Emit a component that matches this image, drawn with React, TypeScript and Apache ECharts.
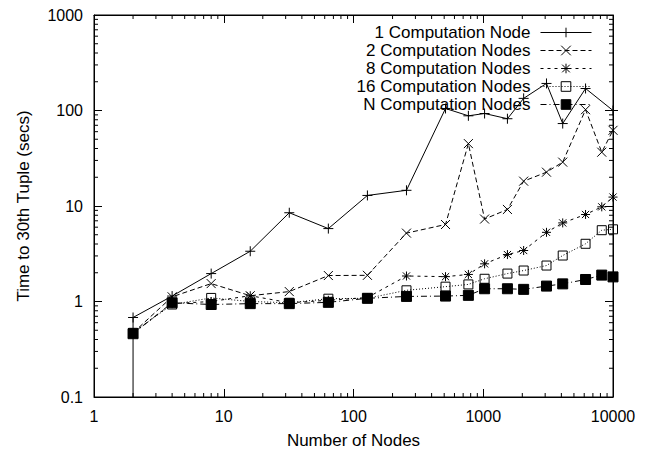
import React, { useEffect, useRef } from "react";
import * as echarts from "echarts";

// ---- data ----
const nodes = [2, 4, 8, 16, 32, 64, 128, 256, 512, 768, 1024, 1536, 2048, 3072, 4096, 6144, 8192, 10000];

const oneNode = [0.68, 1.14, 1.96, 3.36, 8.5, 5.8, 12.9, 14.6, 105, 88, 93, 82, 134, 192, 73, 170, null, 100];
const twoNodes = [0.47, 1.12, 1.54, 1.15, 1.27, 1.87, 1.88, 5.2, 6.4, 45, 7.3, 9.2, 18.2, 22.6, 28.8, 102, 36.6, 62];
const eightNodes = [0.47, 0.95, 1.0, 1.15, 0.97, 1.03, 1.1, 1.85, 1.82, 1.92, 2.48, 3.1, 3.42, 5.3, 6.65, 8.15, 9.8, 12.4];
const sixteenNodes = [0.47, 0.93, 1.09, 1.0, 0.97, 1.07, 1.08, 1.31, 1.43, 1.51, 1.73, 1.96, 2.11, 2.38, 3.03, 4.02, 5.58, 5.7];
const nNodes = [0.46, 0.97, 0.93, 0.95, 0.95, 0.98, 1.08, 1.13, 1.14, 1.16, 1.36, 1.36, 1.34, 1.45, 1.53, 1.7, 1.89, 1.81];

// the 1-node curve starts with a sample below the plotted range at 2 nodes
const oneNodeLowStart = [2, 0.01];

const seriesNames = [
  "1 Computation Node",
  "2 Computation Nodes",
  "8 Computation Nodes",
  "16 Computation Nodes",
  "N Computation Nodes",
];

const xMin = 1;
const xMax = 10000;
const yMin = 0.1;
const yMax = 1000;
const minorMultipliers = [2, 3, 4, 5, 6, 7, 8, 9];
const xDecades = [1, 10, 100, 1000];
const yDecades = [0.1, 1, 10, 100];

const FONT = "'Liberation Sans', Arial, Helvetica, sans-serif";

const pairs = (vals: (number | null)[]) =>
  nodes.map((n, i) => [n, vals[i]]).filter((p) => p[1] !== null);

const PLUS = "path://M0,5L10,5M5,0L5,10";
const CROSS = "path://M0,0L10,10M10,0L0,10";
const STAR = "path://M0,5L10,5M5,0L5,10M1,1L9,9M9,1L1,9";

export default function App() {
  const ref = useRef<HTMLDivElement>(null);

  useEffect(() => {
    if (!ref.current) return;
    const chart = echarts.init(ref.current, null, { renderer: "svg" });

    const xMinor = xDecades.flatMap((d) => minorMultipliers.map((m) => m * d));
    const yMinor = yDecades.flatMap((d) => minorMultipliers.map((m) => +(m * d).toPrecision(3)));

    const lineSeries = (
      name: string,
      data: any[],
      symbol: string,
      symbolSize: number,
      dash: any,
      fill: string
    ) => ({
      name,
      type: "line",
      data,
      symbol,
      symbolSize,
      showSymbol: true,
      clip: true,
      xAxisIndex: 0,
      yAxisIndex: 0,
      lineStyle: { color: "#000", width: 1, type: dash },
      itemStyle: { color: fill, borderColor: "#000", borderWidth: 1 },
      emphasis: { disabled: true },
    });

    const labelFmt = (v: number) => String(+v.toPrecision(6));

    const option: any = {
      animation: false,
      textStyle: { fontFamily: FONT, color: "#000" },
      grid: {
        left: 94,
        right: 43,
        top: 15,
        bottom: 58,
        show: true,
        borderColor: "#000",
        borderWidth: 1,
        backgroundColor: "transparent",
      },
      legend: {
        data: seriesNames,
        orient: "vertical",
        align: "right",
        right: 64,
        top: 24,
        padding: 0,
        itemWidth: 51,
        itemHeight: 12,
        itemGap: 1,
        lineStyle: { width: 1 },
        itemStyle: { borderWidth: 1 },
        textStyle: { fontFamily: FONT, fontSize: 17, color: "#000", lineHeight: 17, padding: [0, 5, 0, 0] },
        selectedMode: false,
      },
      xAxis: [
        {
          type: "log",
          logBase: 10,
          min: xMin,
          max: xMax,
          position: "bottom",
          name: "Number of Nodes",
          nameLocation: "middle",
          nameGap: 35,
          nameTextStyle: { fontFamily: FONT, fontSize: 17, color: "#000" },
          axisLine: { show: true, lineStyle: { color: "#000", width: 1 } },
          axisTick: { show: true, inside: true, length: 8, lineStyle: { color: "#000" } },
          axisLabel: { fontFamily: FONT, fontSize: 16, color: "#000", margin: 11, formatter: labelFmt },
          splitLine: { show: false },
        },
        {
          type: "log",
          logBase: 10,
          min: xMin,
          max: xMax,
          position: "top",
          axisLine: { show: true, lineStyle: { color: "#000", width: 1 } },
          axisTick: { show: true, inside: true, length: 8, lineStyle: { color: "#000" } },
          axisLabel: { show: false },
          splitLine: { show: false },
        },
      ],
      yAxis: [
        {
          type: "log",
          logBase: 10,
          min: yMin,
          max: yMax,
          position: "left",
          name: "Time to 30th Tuple (secs)",
          nameLocation: "middle",
          nameGap: 62,
          nameTextStyle: { fontFamily: FONT, fontSize: 17, color: "#000" },
          axisLine: { show: true, lineStyle: { color: "#000", width: 1 } },
          axisTick: { show: true, inside: true, length: 8, lineStyle: { color: "#000" } },
          axisLabel: { fontFamily: FONT, fontSize: 16, color: "#000", margin: 11, formatter: labelFmt },
          splitLine: { show: false },
        },
        {
          type: "log",
          logBase: 10,
          min: yMin,
          max: yMax,
          position: "right",
          axisLine: { show: true, lineStyle: { color: "#000", width: 1 } },
          axisTick: { show: true, inside: true, length: 8, lineStyle: { color: "#000" } },
          axisLabel: { show: false },
          splitLine: { show: false },
        },
      ],
      series: [
        lineSeries(
          seriesNames[0],
          [{ value: oneNodeLowStart, symbol: "none" }, ...pairs(oneNode)],
          PLUS,
          10,
          "solid",
          "none"
        ),
        lineSeries(seriesNames[1], pairs(twoNodes), CROSS, 9, [5, 3], "none"),
        lineSeries(seriesNames[2], pairs(eightNodes), STAR, 9, [3, 4], "none"),
        lineSeries(seriesNames[3], pairs(sixteenNodes), "rect", 9, [1, 2], "none"),
        lineSeries(seriesNames[4], pairs(nNodes), "rect", 10, [6, 3, 1, 3], "#000"),
        {
          type: "custom",
          name: "xminor",
          xAxisIndex: 0,
          yAxisIndex: 0,
          silent: true,
          data: xMinor.map((v) => [v, yMin]),
          renderItem: (_p: any, api: any) => {
            const v = api.value(0);
            const b = api.coord([v, yMin]);
            const t = api.coord([v, yMax]);
            return {
              type: "group",
              children: [
                { type: "line", shape: { x1: b[0], y1: b[1], x2: b[0], y2: b[1] - 4 }, style: { stroke: "#000", lineWidth: 1 } },
                { type: "line", shape: { x1: t[0], y1: t[1], x2: t[0], y2: t[1] + 4 }, style: { stroke: "#000", lineWidth: 1 } },
              ],
            };
          },
        },
        {
          type: "custom",
          name: "yminor",
          xAxisIndex: 0,
          yAxisIndex: 0,
          silent: true,
          data: yMinor.map((v) => [xMin, v]),
          renderItem: (_p: any, api: any) => {
            const v = api.value(1);
            const l = api.coord([xMin, v]);
            const r = api.coord([xMax, v]);
            return {
              type: "group",
              children: [
                { type: "line", shape: { x1: l[0], y1: l[1], x2: l[0] + 4, y2: l[1] }, style: { stroke: "#000", lineWidth: 1 } },
                { type: "line", shape: { x1: r[0], y1: r[1], x2: r[0] - 4, y2: r[1] }, style: { stroke: "#000", lineWidth: 1 } },
              ],
            };
          },
        },
      ],
    };

    chart.setOption(option);
    return () => chart.dispose();
  }, []);

  return <div ref={ref} style={{ width: 656, height: 455, position: "absolute", left: 0, top: 0 }} />;
}
